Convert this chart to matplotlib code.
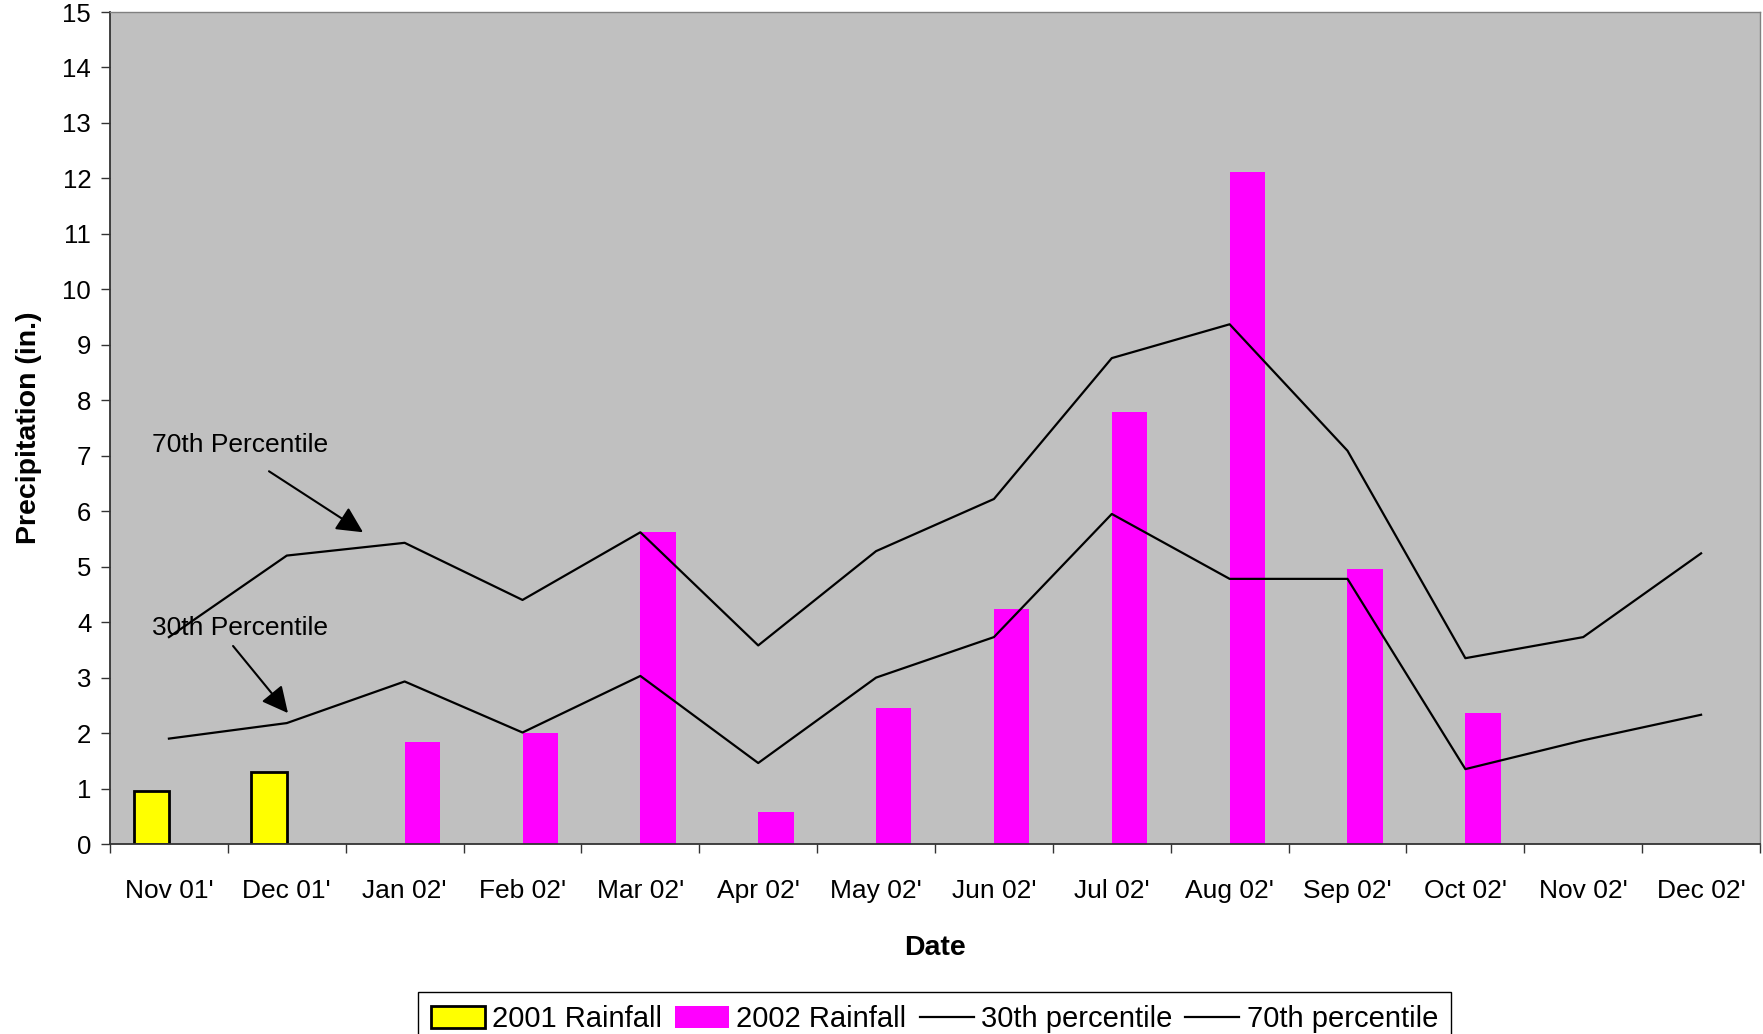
import numpy as np
import matplotlib
matplotlib.use("Agg")
import matplotlib.pyplot as plt
from matplotlib.patches import Patch
from matplotlib.lines import Line2D

plt.rcParams["font.family"] = ["Liberation Sans", "DejaVu Sans"]

months = ["Nov 01'", "Dec 01'", "Jan 02'", "Feb 02'", "Mar 02'", "Apr 02'", "May 02'",
          "Jun 02'", "Jul 02'", "Aug 02'", "Sep 02'", "Oct 02'", "Nov 02'", "Dec 02'"]
rain_2001 = [0.96, 1.30, np.nan, np.nan, np.nan, np.nan, np.nan,
             np.nan, np.nan, np.nan, np.nan, np.nan, np.nan, np.nan]
rain_2002 = [np.nan, np.nan, 1.84, 2.00, 5.63, 0.57, 2.45,
             4.24, 7.79, 12.11, 4.95, 2.37, np.nan, np.nan]
pct_30 = [1.90, 2.18, 2.93, 2.01, 3.03, 1.46, 3.00,
          3.73, 5.95, 4.78, 4.78, 1.35, 1.87, 2.33]
pct_70 = [3.73, 5.20, 5.43, 4.40, 5.62, 3.58, 5.28,
          6.22, 8.76, 9.37, 7.09, 3.35, 3.73, 5.24]

x = np.arange(len(months))
bar_w = 0.3

fig = plt.figure(figsize=(17.63, 10.34), dpi=100)
ax = fig.add_axes([110 / 1763, 1 - 844 / 1034, 1650 / 1763, 832 / 1034])
ax.set_facecolor("#C0C0C0")

ax.bar(x - bar_w / 2, rain_2001, width=bar_w, color="#FFFF00",
       edgecolor="black", linewidth=2, zorder=2)
ax.bar(x + bar_w / 2, rain_2002, width=bar_w, color="#FF00FF",
       edgecolor="none", zorder=2)
ax.plot(x, pct_30, color="black", linewidth=1.6, zorder=3)
ax.plot(x, pct_70, color="black", linewidth=1.6, zorder=3)

# callout labels with arrows
ax.text(-0.144, 7.19, "70th Percentile", fontsize=19, va="center", ha="left", zorder=4)
ax.text(-0.144, 3.89, "30th Percentile", fontsize=19, va="center", ha="left", zorder=2.5)
arrow = dict(arrowstyle="-|>", mutation_scale=40, lw=1.5, color="black",
             shrinkA=0, shrinkB=0)
ax.annotate("", xy=(1.647, 5.62), xytext=(0.849, 6.72), arrowprops=arrow, zorder=4)
ax.annotate("", xy=(1.01, 2.36), xytext=(0.544, 3.57), arrowprops=arrow, zorder=4)

ax.set_xlim(-0.5, len(months) - 0.5)
ax.set_ylim(0, 15)
ax.set_yticks(np.arange(0, 16, 1))
ax.set_xticks(x)
ax.set_xticklabels(months)
ax.set_xticks(np.arange(-0.5, len(months), 1), minor=True)
ax.tick_params(axis="x", which="major", length=0, pad=25, labelsize=19)
ax.tick_params(axis="x", which="minor", length=6.5, width=1, color="#333333", direction="out")
ax.tick_params(axis="y", length=6.5, width=1, color="#333333", pad=7, labelsize=18.5)

for side in ("left", "bottom"):
    ax.spines[side].set_color("#333333")
    ax.spines[side].set_linewidth(1.3)
for side in ("top", "right"):
    ax.spines[side].set_color("#808080")
    ax.spines[side].set_linewidth(1.0)

ax.set_xlabel("Date", fontsize=20.5, fontweight="bold", labelpad=23)
ax.set_ylabel("Precipitation (in.)", fontsize=20.5, fontweight="bold")
ax.yaxis.set_label_coords(-0.041, 0.5)

handles = [
    Patch(facecolor="#FFFF00", edgecolor="black", linewidth=2),
    Patch(facecolor="#FF00FF", edgecolor="none"),
    Line2D([], [], color="black", linewidth=1.6),
    Line2D([], [], color="black", linewidth=1.6),
]
labels = ["2001 Rainfall", "2002 Rainfall", "30th percentile", "70th percentile"]
leg = fig.legend(handles, labels, loc="upper center", bbox_to_anchor=(0.530, 1 - 992 / 1034),
                 ncol=4, fontsize=21, frameon=True, fancybox=False, edgecolor="black",
                 framealpha=1, borderaxespad=0, handlelength=1.85, handleheight=0.75,
                 handletextpad=0.25, columnspacing=0.45, borderpad=0.45)
leg.get_frame().set_linewidth(1.0)

fig.savefig("out.png", dpi=100)
plt.close(fig)
